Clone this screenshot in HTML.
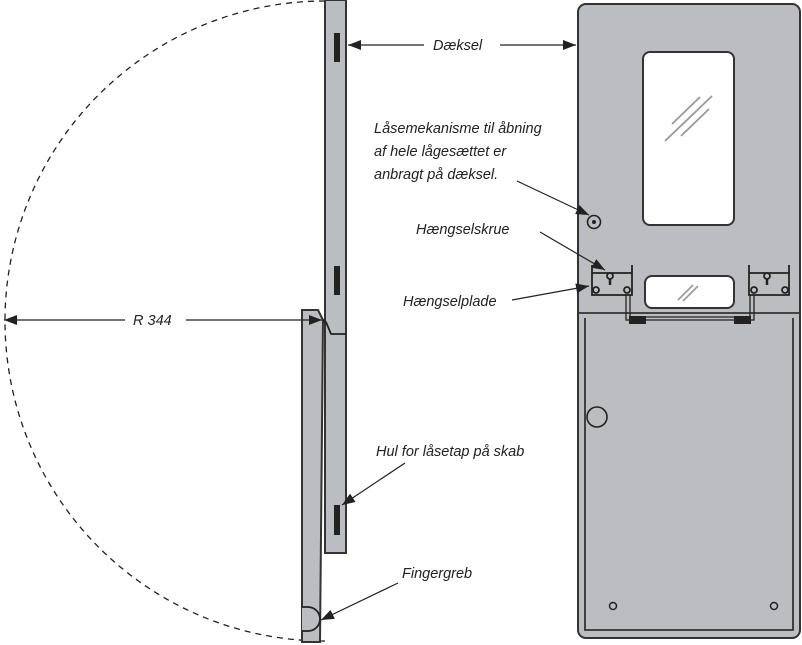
<!DOCTYPE html>
<html><head><style>
html,body{margin:0;padding:0;background:#fff;width:802px;height:645px;overflow:hidden}
text{font-family:"Liberation Sans",sans-serif;font-style:italic;font-size:14.5px;fill:#222}
</style></head><body>
<svg width="802" height="645" viewBox="0 0 802 645" xmlns="http://www.w3.org/2000/svg">
<defs><marker id="a" markerWidth="13" markerHeight="10" refX="13" refY="5" orient="auto" markerUnits="userSpaceOnUse"><path d="M0,0 L13,5 L0,10z" fill="#222"/></marker></defs>
<path d="M325,1 A320,320 0 0 0 325,641" fill="none" stroke="#222" stroke-width="1.3" stroke-dasharray="6,5"/>
<rect x="325" y="0" width="21" height="553" fill="#bcbdc0" stroke="#333" stroke-width="2"/>
<rect x="334" y="33" width="6" height="29" fill="#222"/>
<rect x="334" y="266" width="6" height="29" fill="#222"/>
<rect x="334" y="505" width="6" height="30" fill="#222"/>
<path d="M326,322 L331,334 L346,334" fill="none" stroke="#222" stroke-width="1.8"/>
<path d="M302,310 L318,310 L323,320 L320,642 L302,642 Z" fill="#bcbdc0" stroke="#333" stroke-width="2"/>
<path d="M323,320 L326,322" stroke="#222" stroke-width="2"/>
<path d="M302,607 L308,607 A12,12 0 0 1 308,631 L302,631" fill="#bcbdc0" stroke="#222" stroke-width="1.8"/>
<rect x="578" y="4" width="222" height="634" rx="8" fill="#bcbdc0" stroke="#333" stroke-width="2"/>
<line x1="578" y1="313" x2="800" y2="313" stroke="#333" stroke-width="1.8"/>
<path d="M585,318 L585,630 L793,630 L793,318" fill="none" stroke="#333" stroke-width="1.8"/>
<rect x="643" y="52" width="91" height="173" rx="7" fill="#fff" stroke="#333" stroke-width="2"/>
<g stroke="#999" stroke-width="1.8"><line x1="672" y1="124" x2="700" y2="97"/><line x1="665" y1="141" x2="712" y2="96"/><line x1="681" y1="136" x2="709" y2="109"/></g>
<rect x="645" y="276" width="89" height="32" rx="7" fill="#fff" stroke="#333" stroke-width="2"/>
<g stroke="#999" stroke-width="1.6"><line x1="678" y1="300" x2="693" y2="285"/><line x1="683" y1="301" x2="698" y2="286"/></g>
<circle cx="594" cy="222" r="6.5" fill="#bcbdc0" stroke="#222" stroke-width="1.6"/><circle cx="594" cy="222" r="2" fill="#222"/>
<circle cx="597" cy="417" r="10" fill="#bcbdc0" stroke="#222" stroke-width="1.6"/>
<circle cx="613" cy="606" r="3.5" fill="none" stroke="#222" stroke-width="1.5"/>
<circle cx="774" cy="606" r="3.5" fill="none" stroke="#222" stroke-width="1.5"/>
<g fill="none" stroke="#222" stroke-width="1.8">
<path d="M592,265 L592,295 L632,295 L632,265"/><line x1="592" y1="273" x2="632" y2="273"/>
<path d="M749,265 L749,295 L789,295 L789,265"/><line x1="749" y1="273" x2="789" y2="273"/>
<circle cx="596" cy="290" r="3"/><circle cx="627" cy="290" r="3"/><circle cx="610" cy="276" r="3"/>
<circle cx="754" cy="290" r="3"/><circle cx="785" cy="290" r="3"/><circle cx="767" cy="276" r="3"/>
<path d="M626,295 L626,320 L754,320 L754,295" stroke-width="1.3"/>
<path d="M630,295 L630,317 L750,317 L750,295" stroke-width="1.3"/>
</g>
<line x1="610" y1="279" x2="610" y2="285" stroke="#222" stroke-width="2.5"/>
<line x1="767" y1="279" x2="767" y2="285" stroke="#222" stroke-width="2.5"/>
<rect x="629" y="316" width="17" height="8" fill="#222"/>
<rect x="734" y="316" width="17" height="8" fill="#222"/>
<g stroke="#222" stroke-width="1.2" fill="none">
<line x1="424" y1="45" x2="348" y2="45" marker-end="url(#a)"/>
<line x1="500" y1="45" x2="576" y2="45" marker-end="url(#a)"/>
<line x1="125" y1="320" x2="4" y2="320" marker-end="url(#a)"/>
<line x1="186" y1="320" x2="322" y2="320" marker-end="url(#a)"/>
<line x1="517" y1="181" x2="589" y2="215" marker-end="url(#a)"/>
<line x1="540" y1="232" x2="605" y2="270" marker-end="url(#a)"/>
<line x1="512" y1="300" x2="589" y2="286" marker-end="url(#a)"/>
<line x1="405" y1="463" x2="342" y2="505" marker-end="url(#a)"/>
<line x1="398" y1="583" x2="321" y2="620" marker-end="url(#a)"/>
</g>
<text x="433" y="50">Dæksel</text>
<text x="133" y="325">R 344</text>
<text x="374" y="133">Låsemekanisme til åbning</text>
<text x="374" y="156">af hele lågesættet er</text>
<text x="374" y="179">anbragt på dæksel.</text>
<text x="416" y="234">Hængselskrue</text>
<text x="403" y="306">Hængselplade</text>
<text x="376" y="456">Hul for låsetap på skab</text>
<text x="402" y="578">Fingergreb</text>
</svg>
</body></html>
